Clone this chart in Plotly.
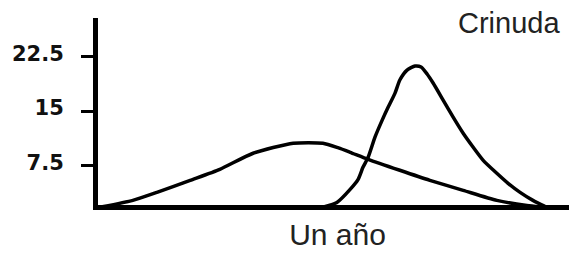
import plotly.graph_objects as go

# Data (x in months across one year, y in chart units)
broad_x = [0.1, 0.92, 1.52, 2.35, 3.09, 3.92, 4.92, 5.66, 6.05, 6.34, 6.79, 7.58, 8.33, 9.16, 10.0, 10.75, 11.2]
broad_y = [1.7, 2.64, 3.75, 5.42, 6.94, 9.17, 10.56, 10.56, 9.9, 9.3, 8.33, 6.81, 5.42, 4.03, 2.64, 1.94, 1.7]

sharp_x = [5.64, 6.01, 6.34, 6.54, 6.66, 6.79, 6.96, 7.14, 7.29, 7.46, 7.58, 7.76, 7.96, 8.11,
           8.26, 8.41, 8.66, 8.91, 9.16, 9.41, 9.66, 10.0, 10.28, 10.58, 10.9, 11.2]
sharp_y = [1.67, 2.36, 4.17, 5.56, 7.22, 8.61, 11.39, 13.75, 15.56, 17.5, 19.31, 20.69, 21.25, 21.11,
           20.14, 18.89, 16.53, 14.17, 11.94, 10.0, 8.19, 6.39, 5.0, 3.75, 2.64, 1.8]

y_ticks = [7.5, 15, 22.5]
y_tick_labels = ["7.5", "15", "22.5"]

fig = go.Figure()
line_style = dict(color="black", width=3.5, shape="spline", smoothing=0.6)
fig.add_trace(go.Scatter(x=broad_x, y=broad_y, mode="lines", line=line_style, showlegend=False))
fig.add_trace(go.Scatter(x=sharp_x, y=sharp_y, mode="lines", line=line_style, showlegend=False))

# page body has an 8px margin, so the figure is shrunk by 8px and margins reduced
fig.update_layout(
    width=569, height=246,
    margin=dict(l=90, r=0, t=10, b=49),
    paper_bgcolor="white", plot_bgcolor="white",
    showlegend=False,
    xaxis=dict(
        range=[0.05, 12], showgrid=False, zeroline=False, showticklabels=False,
        ticks="", showline=True, linecolor="black", linewidth=5,
        title=dict(text="Un año", font=dict(family="Liberation Sans, Arial", size=30, color="#222"), standoff=16),
    ),
    yaxis=dict(
        range=[2.0, 27.9], showgrid=False, zeroline=False,
        tickvals=y_ticks, ticktext=y_tick_labels,
        ticks="outside", ticklen=12, tickwidth=3, tickcolor="black",
        showline=True, linecolor="black", linewidth=5,
        tickfont=dict(family="DejaVu Sans", size=21, color="#111", weight="bold"),
        ticklabelstandoff=13, ticklabelshift=-3,
    ),
    annotations=[
        dict(text="Crinuda", xref="paper", yref="paper", x=0.857, y=0.975,
             xanchor="center", yanchor="middle", showarrow=False,
             font=dict(family="Liberation Sans, Arial", size=29, color="#222")),
    ],
)

fig.write_html("out.html")
